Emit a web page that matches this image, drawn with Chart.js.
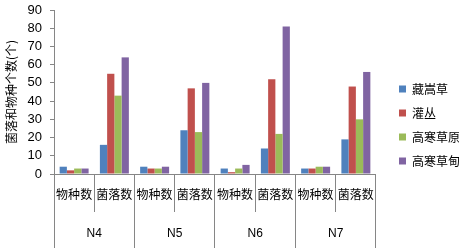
<!DOCTYPE html>
<html>
<head>
<meta charset="utf-8">
<script src="https://cdn.jsdelivr.net/npm/chart.js@4"></script>
<style>
  html, body { margin: 0; padding: 0; background: #fff; }
  #wrap { width: 459px; height: 250px; }
</style>
</head>
<body>
<div id="wrap"><canvas id="myChart" width="459" height="250"></canvas></div>
<script>
var categories = ['物种数', '菌落数', '物种数', '菌落数', '物种数', '菌落数', '物种数', '菌落数'];
var groups = ['N4', 'N5', 'N6', 'N7'];
var seriesNames = ['藏嵩草', '灌丛', '高寒草原', '高寒草甸'];

var zangSongCao = [4, 16, 4, 24, 3, 14, 3, 19];
var guanCong = [2, 55, 3, 47, 1, 52, 3, 48];
var gaoHanCaoYuan = [3, 43, 3, 23, 3, 22, 4, 30];
var gaoHanCaoDian = [3, 64, 4, 50, 5, 81, 4, 56];

var colors = ['#4F81BD', '#C0504D', '#9BBB59', '#8064A2'];
var seriesData = [zangSongCao, guanCong, gaoHanCaoYuan, gaoHanCaoDian];

var cjk = '"Noto Sans CJK SC", "Noto Sans", sans-serif';
var axisColor = '#868686';

var datasets = [];
for (var i = 0; i < seriesNames.length; i++) {
    datasets.push({
        label: seriesNames[i],
        data: seriesData[i],
        backgroundColor: colors[i],
        borderWidth: 0,
        categoryPercentage: 0.72,
        barPercentage: 1.0
    });
}

// nudge the legend right and up a little, like the original
var legendShift = {
    id: 'legendShift',
    afterLayout: function (chart) {
        chart.legend.left += 11;
        chart.legend.right += 11;
        chart.legend.top -= 5;
        chart.legend.bottom -= 5;
    }
};

var ctx = document.getElementById('myChart');
var chart = new Chart(ctx, {
    type: 'bar',
    data: {
        labels: categories,
        datasets: datasets
    },
    plugins: [legendShift],
    options: {
        responsive: false,
        animation: false,
        layout: {
            padding: { top: 10, left: 0, right: 0, bottom: 0 }
        },
        plugins: {
            legend: {
                position: 'right',
                labels: {
                    boxWidth: 7,
                    boxHeight: 7,
                    padding: 12,
                    color: '#000',
                    font: { family: cjk, size: 12 }
                }
            },
            tooltip: { enabled: false }
        },
        scales: {
            x: {
                offset: true,
                grid: {
                    offset: true,
                    drawOnChartArea: false,
                    drawTicks: true,
                    tickLength: 38,
                    color: axisColor
                },
                border: { display: true, color: axisColor },
                ticks: {
                    color: '#000',
                    padding: -25,
                    maxRotation: 0,
                    autoSkip: false,
                    font: { family: cjk, size: 12 }
                },
                afterFit: function (scale) { scale.height = 38; }
            },
            x2: {
                type: 'category',
                labels: groups,
                position: 'bottom',
                offset: true,
                grid: {
                    offset: true,
                    drawOnChartArea: false,
                    drawTicks: true,
                    tickLength: 36,
                    color: axisColor
                },
                border: { display: false },
                ticks: {
                    color: '#000',
                    padding: -22,
                    maxRotation: 0,
                    font: { family: 'Liberation Sans, sans-serif', size: 12 }
                },
                afterFit: function (scale) { scale.height = 38; }
            },
            y: {
                min: 0,
                max: 90,
                ticks: {
                    stepSize: 10,
                    autoSkip: false,
                    color: '#000',
                    padding: 8,
                    font: { family: 'Liberation Sans, sans-serif', size: 13 }
                },
                grid: {
                    drawOnChartArea: false,
                    drawTicks: true,
                    tickLength: 4,
                    color: axisColor
                },
                border: { display: true, color: axisColor },
                title: {
                    display: true,
                    text: '菌落和物种个数(个)',
                    color: '#000',
                    padding: { top: 4, bottom: 2 },
                    font: { family: cjk, size: 12 }
                },
                afterFit: function (scale) {
                    scale.width = 54;
                    scale.paddingTop = 0;
                    scale.paddingBottom = 0;
                }
            }
        }
    }
});
</script>
</body>
</html>
